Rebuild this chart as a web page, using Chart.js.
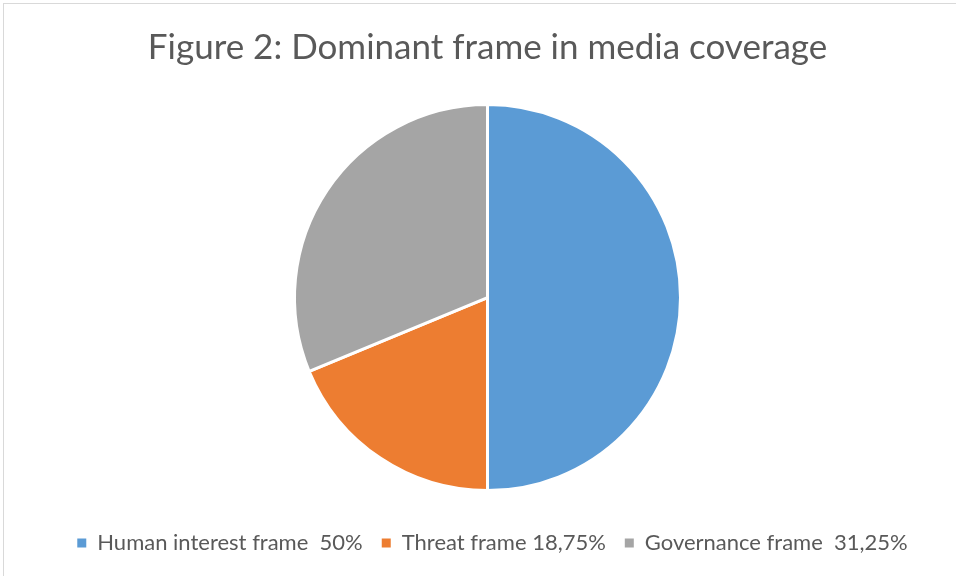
<!DOCTYPE html>
<html>
<head>
<meta charset="utf-8">
<script src="https://cdn.jsdelivr.net/npm/chart.js@4"></script>
<style>
  html, body { margin: 0; padding: 0; background: #ffffff; }
  #wrap { position: relative; width: 956px; height: 576px; }
  #frame { position: absolute; left: 3px; top: 3px; right: 0; bottom: 0; border-top: 1px solid #d9d9d9; border-left: 1px solid #d9d9d9; pointer-events: none; }
</style>
</head>
<body>
<div id="wrap">
  <canvas id="c" width="956" height="576"></canvas>
  <div id="frame"></div>
</div>
<script>
const titleText = "Figure 2: Dominant frame in media coverage";
const categories = ["Human interest frame  50%", "Threat frame 18,75%", "Governance frame  31,25%"];
const shareValues = [50, 18.75, 31.25];
const sliceColors = ["#5B9BD5", "#ED7D31", "#A5A5A5"];

const defaultPieLabels = Chart.overrides.pie.plugins.legend.labels.generateLabels;

const legendShift = {
  id: 'legendShift',
  afterLayout(chart) {
    const lg = chart.legend;
    if (lg) { lg.left += 5; lg.right += 5; }
  }
};

new Chart(document.getElementById('c'), {
  type: 'pie',
  data: {
    labels: categories,
    datasets: [{
      data: shareValues,
      backgroundColor: sliceColors,
      borderColor: '#ffffff',
      borderWidth: 3,
      radius: 193
    }]
  },
  plugins: [legendShift],
  options: {
    responsive: false,
    animation: false,
    layout: { padding: { left: 19, right: 0, top: 0, bottom: 12 } },
    plugins: {
      tooltip: { enabled: false },
      title: {
        display: true,
        text: titleText,
        color: '#595959',
        font: { family: 'Lato', size: 35, weight: 'normal', lineHeight: 1.2 },
        padding: { top: 26.5, bottom: 13.7 }
      },
      legend: {
        display: true,
        position: 'bottom',
        labels: {
          color: '#595959',
          font: { family: 'Lato', size: 22 },
          boxWidth: 9,
          boxHeight: 9,
          padding: 19,
          generateLabels(chart) {
            return defaultPieLabels(chart).map(item => Object.assign(item, { lineWidth: 0 }));
          }
        }
      }
    }
  }
});
</script>
</body>
</html>
